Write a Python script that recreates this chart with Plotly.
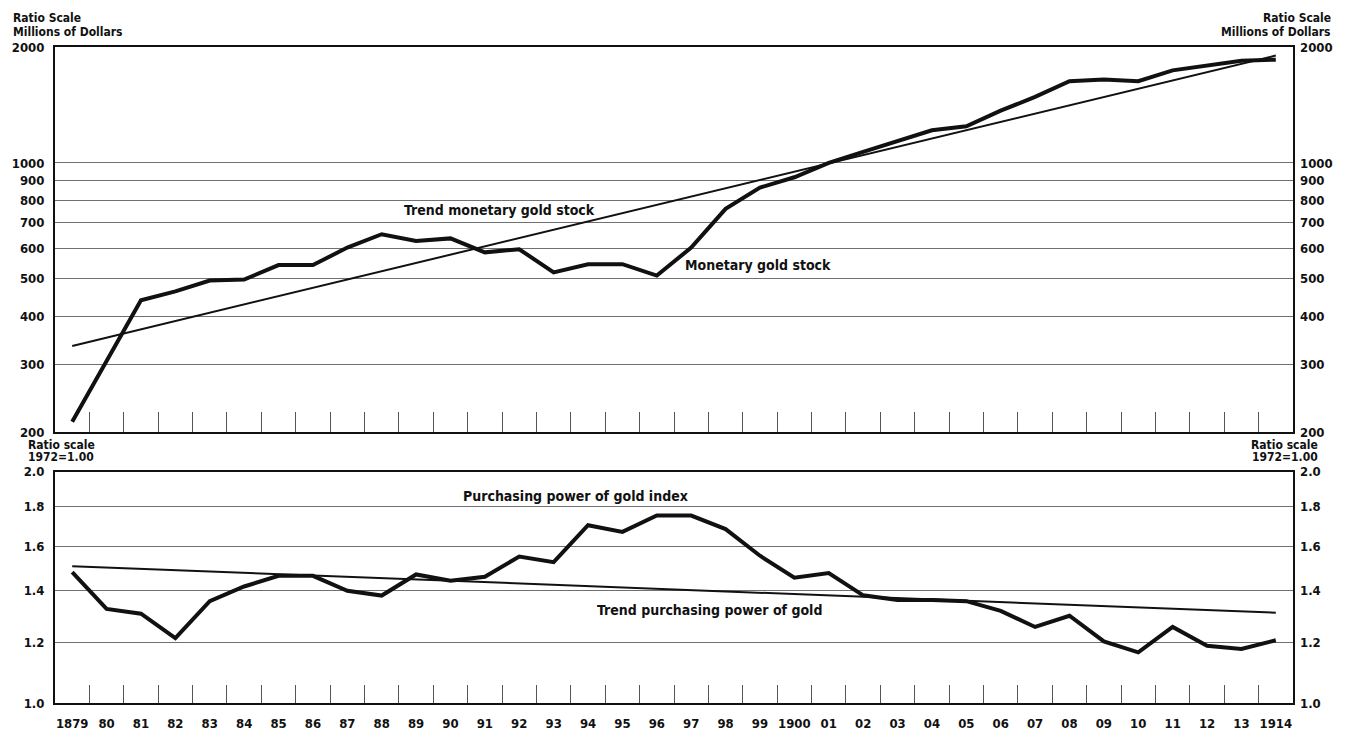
import numpy as np
import plotly.graph_objects as go

# ---- data -------------------------------------------------------------
years = list(range(1879, 1915))

# Monetary gold stock, millions of dollars (ratio scale)
gold_stock = [213, 306, 440, 464, 495, 498, 543, 543, 603, 653,
              627, 637, 586, 597, 520, 546, 546, 510, 603, 760,
              863, 918, 1000, 1069, 1140, 1216, 1245, 1367, 1484, 1630,
              1648, 1630, 1739, 1790, 1842, 1854]

# Trend monetary gold stock (straight line on the ratio scale)
gold_trend_years = [1879, 1914]
gold_trend = [335, 1900]

# Purchasing power of gold index, 1972 = 1.00
power_index = [1.480, 1.326, 1.307, 1.215, 1.357, 1.418, 1.464, 1.464, 1.400, 1.380,
               1.470, 1.443, 1.460, 1.551, 1.525, 1.704, 1.670, 1.754, 1.754, 1.684,
               1.555, 1.456, 1.476, 1.381, 1.362, 1.362, 1.357, 1.318, 1.256, 1.299,
               1.203, 1.164, 1.256, 1.187, 1.176, 1.207]

# Trend purchasing power of gold
power_trend_years = [1879, 1914]
power_trend = [1.507, 1.311]

# Axis ticks
gold_ticks = [200, 300, 400, 500, 600, 700, 800, 900, 1000, 2000]
power_ticks = [1.0, 1.2, 1.4, 1.6, 1.8, 2.0]
power_tick_text = ["1.0", "1.2", "1.4", "1.6", "1.8", "2.0"]
year_labels = [str(y) if y in (1879, 1900, 1914) else f"{y % 100:02d}" for y in years]

# ---- styling ------------------------------------------------------------
FONT = "DejaVu Sans Condensed, Liberation Sans Narrow, Arial Narrow, sans-serif"
INK = "#111111"
GRID = "#707070"
x_range = [years[0] - 0.5, years[-1] + 0.5]
half_years = [y + 0.5 for y in years[:-1]]

fig = go.Figure()

# upper panel
fig.add_trace(go.Scatter(x=years, y=gold_stock, mode="lines",
                         line=dict(color=INK, width=4), xaxis="x", yaxis="y",
                         hoverinfo="skip", showlegend=False))
fig.add_trace(go.Scatter(x=gold_trend_years, y=gold_trend, mode="lines",
                         line=dict(color=INK, width=2), xaxis="x", yaxis="y",
                         hoverinfo="skip", showlegend=False))
# carrier for the right-hand scale of the upper panel
fig.add_trace(go.Scatter(x=gold_trend_years, y=gold_trend, mode="lines",
                         line=dict(color="rgba(0,0,0,0)", width=0), xaxis="x", yaxis="y3",
                         hoverinfo="skip", showlegend=False))

# lower panel
fig.add_trace(go.Scatter(x=years, y=power_index, mode="lines",
                         line=dict(color=INK, width=4), xaxis="x2", yaxis="y2",
                         hoverinfo="skip", showlegend=False))
fig.add_trace(go.Scatter(x=power_trend_years, y=power_trend, mode="lines",
                         line=dict(color=INK, width=2), xaxis="x2", yaxis="y2",
                         hoverinfo="skip", showlegend=False))
fig.add_trace(go.Scatter(x=power_trend_years, y=power_trend, mode="lines",
                         line=dict(color="rgba(0,0,0,0)", width=0), xaxis="x2", yaxis="y4",
                         hoverinfo="skip", showlegend=False))

tick_font = dict(family=FONT, size=13, color=INK, weight="bold")

common_x = dict(range=x_range, showgrid=False, zeroline=False, showline=True,
                linecolor=INK, linewidth=2, mirror=True, ticks="",
                minor=dict(ticks="inside", tickvals=half_years, ticklen=20,
                           tickcolor="#555555", tickwidth=1, showgrid=False))

top_dom = [0.4128, 1.0]
bot_dom = [0.0, 0.3525]

gold_axis = dict(type="log", range=[np.log10(200), np.log10(2000)],
                 tickmode="array", tickvals=gold_ticks,
                 ticktext=[str(v) for v in gold_ticks],
                 tickfont=tick_font, ticks="", zeroline=False)
power_axis = dict(type="log", range=[0, np.log10(2.0)],
                  tickmode="array", tickvals=power_ticks, ticktext=power_tick_text,
                  tickfont=tick_font, ticks="", zeroline=False)

fig.update_layout(
    width=1345, height=743,
    margin=dict(l=52, r=49, t=47, b=25),
    paper_bgcolor="white", plot_bgcolor="white",
    showlegend=False,
    xaxis=dict(domain=[0, 1], anchor="y", showticklabels=False, **common_x),
    xaxis2=dict(domain=[0, 1], anchor="y2", tickmode="array", tickvals=years,
                ticktext=year_labels, tickfont=tick_font, ticklabelstandoff=7,
                **{**common_x, "minor": dict(common_x["minor"], ticklen=18)}),
    yaxis=dict(domain=top_dom, anchor="x", showgrid=True, gridcolor=GRID, gridwidth=1,
               showline=True, linecolor=INK, linewidth=2, mirror=True,
               ticklabelstandoff=6, **gold_axis),
    yaxis3=dict(overlaying="y", side="right", anchor="x", showgrid=False,
                showline=False, ticklabelstandoff=6, **gold_axis),
    yaxis2=dict(domain=bot_dom, anchor="x2", showgrid=True, gridcolor=GRID, gridwidth=1,
                showline=True, linecolor=INK, linewidth=2, mirror=True,
                ticklabelstandoff=6, **power_axis),
    yaxis4=dict(overlaying="y2", side="right", anchor="x2", showgrid=False,
                showline=False, ticklabelstandoff=6, **power_axis),
)

label_font = dict(family=FONT, size=14, color=INK, weight="bold")
head_font = dict(family=FONT, size=12, color=INK, weight="bold")

annotations = [
    # series labels
    dict(x=1891.42, y=np.log10(757), xref="x", yref="y", text="Trend monetary gold stock",
         showarrow=False, font=label_font),
    dict(x=1898.95, y=np.log10(543), xref="x", yref="y", text="Monetary gold stock",
         showarrow=False, font=label_font),
    dict(x=1893.64, y=np.log10(1.858), xref="x2", yref="y2", text="Purchasing power of gold index",
         showarrow=False, font=label_font),
    dict(x=1897.54, y=np.log10(1.322), xref="x2", yref="y2", text="Trend purchasing power of gold",
         showarrow=False, font=label_font),
    # scale headers, upper panel
    dict(x=-0.0354, y=1.0447, xref="paper", yref="paper", xanchor="left", yanchor="middle",
         text="Ratio Scale", showarrow=False, font=head_font),
    dict(x=-0.0354, y=1.0231, xref="paper", yref="paper", xanchor="left", yanchor="middle",
         text="Millions of Dollars", showarrow=False, font=head_font),
    dict(x=1.0322, y=1.0447, xref="paper", yref="paper", xanchor="right", yanchor="middle",
         text="Ratio Scale", showarrow=False, font=head_font),
    dict(x=1.0322, y=1.0231, xref="paper", yref="paper", xanchor="right", yanchor="middle",
         text="Millions of Dollars", showarrow=False, font=head_font),
    # scale headers, lower panel
    dict(x=-0.0235, y=0.3934, xref="paper", yref="paper", xanchor="left", yanchor="middle",
         text="Ratio scale", showarrow=False, font=head_font),
    dict(x=-0.0235, y=0.3756, xref="paper", yref="paper", xanchor="left", yanchor="middle",
         text="1972=1.00", showarrow=False, font=head_font),
    dict(x=1.0217, y=0.3934, xref="paper", yref="paper", xanchor="right", yanchor="middle",
         text="Ratio scale", showarrow=False, font=head_font),
    dict(x=1.0217, y=0.3756, xref="paper", yref="paper", xanchor="right", yanchor="middle",
         text="1972=1.00", showarrow=False, font=head_font),
]
fig.update_layout(annotations=annotations)

fig.write_html("out.html")
